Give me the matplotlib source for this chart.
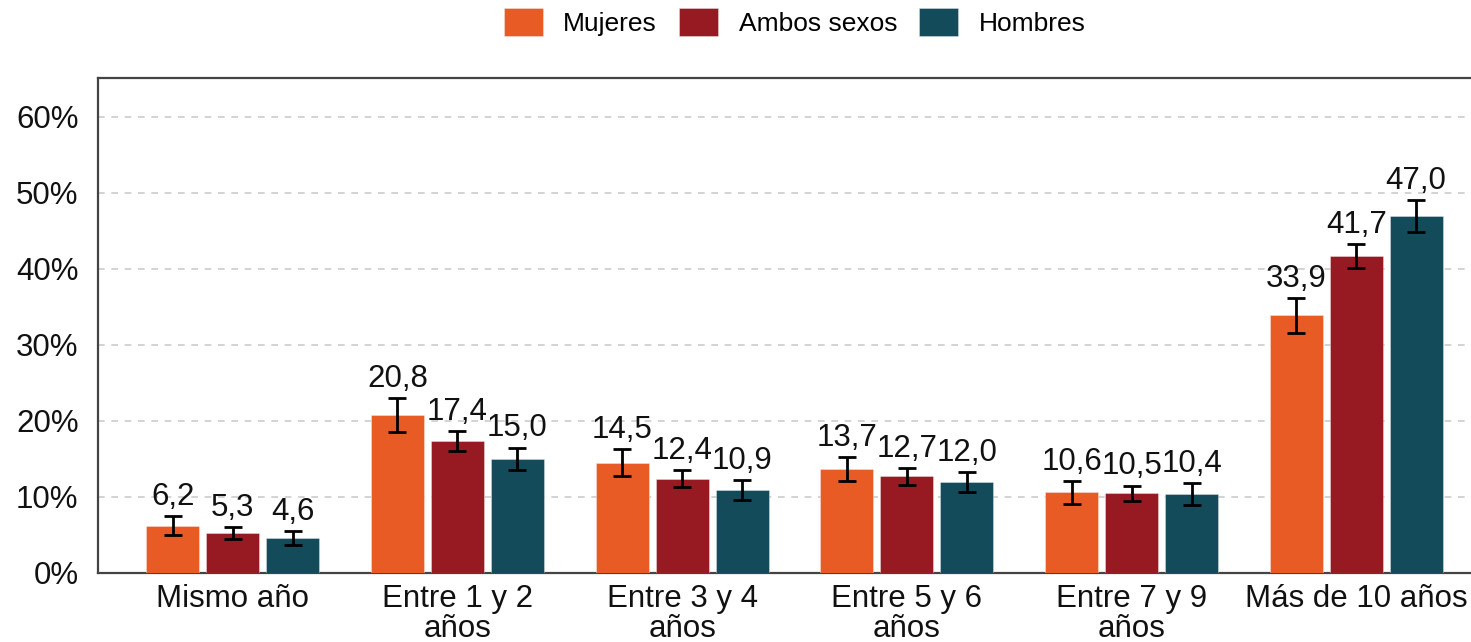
import matplotlib
matplotlib.use("Agg")
import matplotlib.pyplot as plt
import numpy as np

plt.rcParams['font.family'] = ['Liberation Sans', 'DejaVu Sans']

categories = ["Mismo año", "Entre 1 y 2\naños", "Entre 3 y 4\naños",
              "Entre 5 y 6\naños", "Entre 7 y 9\naños", "Más de 10 años"]
series_names = ["Mujeres", "Ambos sexos", "Hombres"]
mujeres = [6.2, 20.8, 14.5, 13.7, 10.6, 33.9]
ambos = [5.3, 17.4, 12.4, 12.7, 10.5, 41.7]
hombres = [4.6, 15.0, 10.9, 12.0, 10.4, 47.0]
err_mujeres = [1.25, 2.2, 1.8, 1.6, 1.5, 2.3]
err_ambos = [0.8, 1.3, 1.1, 1.1, 1.0, 1.6]
err_hombres = [0.9, 1.5, 1.3, 1.3, 1.4, 2.1]
colors = ["#E85B25", "#971A22", "#134B5B"]
yticks = [0, 10, 20, 30, 40, 50, 60]

fig = plt.figure(figsize=(14.71, 6.42), dpi=100)
ax = fig.add_axes([98/1471, 1-573/642, (1491-98)/1471, (573-78)/642])

x = np.arange(len(categories))
step = 0.267
width = 0.235
data = [mujeres, ambos, hombres]
errs = [err_mujeres, err_ambos, err_hombres]
for i, (vals, er, c, name) in enumerate(zip(data, errs, colors, series_names)):
    pos = x + (i - 1) * step
    ax.bar(pos, vals, width, color=c, label=name, edgecolor=(1, 1, 1, 0.4),
           linewidth=0.6, zorder=3)
    ax.errorbar(pos, vals, yerr=er, fmt='none', ecolor='black', elinewidth=2.0,
                capsize=6.5, capthick=2.0, zorder=4)
    for p, v, e in zip(pos, vals, er):
        ax.annotate(f"{v:.1f}".replace(".", ","), (p, v + e), xytext=(0, 8),
                    textcoords='offset points', ha='center', va='baseline',
                    fontsize=22.5, color='#111111', zorder=5)

ax.set_xlim(-0.6, 5.6)
ax.set_ylim(0, 65.1)
ax.set_yticks(yticks)
ax.set_yticklabels([f"{t}%" for t in yticks])
ax.set_xticks(x)
ax.set_xticklabels(categories)
ax.tick_params(axis='both', length=0, labelsize=22.5, colors='#111111')
ax.tick_params(axis='y', pad=14)
ax.tick_params(axis='x', pad=8)
for t in ax.get_xticklabels():
    t.set_linespacing(1.0)
ax.yaxis.grid(True, linestyle=(0, (4, 4)), color='#CCCCCC', linewidth=1.2, zorder=0)
ax.set_axisbelow(True)
for s in ['left', 'top', 'bottom']:
    ax.spines[s].set_color('#444444')
    ax.spines[s].set_linewidth(1.6)
ax.spines['right'].set_visible(False)
ax.get_ygridlines()[0].set_visible(False)

ax.legend(loc='center', bbox_to_anchor=(0.5, 1 + (78-22)/495), ncol=3, frameon=False,
          fontsize=19, handlelength=1.5, handleheight=1.3, handletextpad=0.76,
          columnspacing=0.83)

fig.savefig("out.png", dpi=100)
